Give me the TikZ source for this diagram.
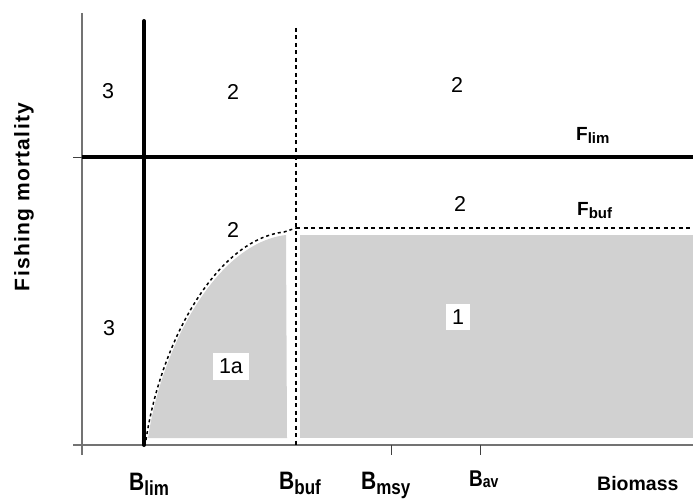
\documentclass[tikz,border=0pt]{standalone}
\usepackage{fontspec}
\setmainfont{Liberation Sans}
\usetikzlibrary{calc}
\tikzset{
  every picture/.append style={line join=round},
  hcr axis/.style={black!55,line width=1.4pt},
  hcr tick/.style={black!75,line width=1pt},
  hcr limit/.style={black,line width=4pt,line cap=round},
  hcr buffer/.style={black,line width=2pt,dash pattern=on 4pt off 3.5pt},
  hcr curve/.style={black,line width=1.5pt,dash pattern=on 3pt off 3pt},
  hcr zone/.style={fill=black!18},
  hcr number/.style={font=\fontsize{21.5}{24}\selectfont,inner sep=5pt},
  hcr boxed/.style={hcr number,fill=white,inner sep=6pt},
  hcr ref/.style={inner sep=0pt,anchor=base west}
}
\newcommand\hcrB[2]{\scalebox{1}[1.2]{\fontsize{21}{24}\selectfont\bfseries #1\raisebox{-4.5pt}{\fontsize{17}{20}\selectfont #2}}}
\newcommand\hcrF[2]{{\fontsize{19}{22}\selectfont\bfseries #1\raisebox{-3pt}{\fontsize{15}{18}\selectfont #2}}}

\begin{document}
\begin{tikzpicture}[x=1pt, y=-1pt]
  \useasboundingbox (0,0) rectangle (693,500);
  % reference points
  \coordinate (axis top) at (82,13);
  \coordinate (axis foot) at (82,455);
  \coordinate (axis left) at (73,445);
  \coordinate (axis right) at (693,445);
  \coordinate (flim left) at (82,157);
  \coordinate (flim right) at (693,157);
  \coordinate (blim top) at (144,21);
  \coordinate (blim foot) at (144,445);
  \coordinate (bbuf top) at (296,28);
  \coordinate (bbuf foot) at (296,445);
  \coordinate (fbuf left) at (296,228);
  \coordinate (fbuf right) at (693,228);
  % shaded zones
  \fill[hcr zone] (148,438) .. controls (162,345) and (217,243) .. (286,235)
    -- (287,438) -- cycle;
  \fill[hcr zone] (300,235) rectangle (693,438);
  % axes
  \draw[hcr axis] (axis top) -- (axis foot);
  \draw[hcr axis] (axis left) -- (axis right);
  \draw[hcr tick] (73,157) -- (flim left);
  \foreach \xt in {391,480} {
    \draw[hcr tick] (\xt,445) -- (\xt,455);
  }
  % limit and buffer lines
  \draw[hcr limit] (blim top) -- (blim foot);
  \draw[hcr limit,line cap=butt] (flim left) -- (flim right);
  \draw[hcr buffer] (bbuf top) -- (bbuf foot);
  \draw[hcr buffer] (fbuf left) -- (fbuf right);
  \draw[hcr curve] (146,440) .. controls (160,345) and (215,240) .. (284,232)
    -- (fbuf left);
  % zone numbers
  \foreach \pos/\lab [count=\i] in {{(108,91)}/3,{(233,92)}/2,{(457,85)}/2,
      {(460,204)}/2,{(233,230)}/2,{(109,328)}/3} {
    \node[hcr number] (zone \i) at \pos {\lab};
  }
  \node[hcr boxed] (zone 1a) at (231,366) {1a};
  \node[hcr boxed] (zone 1) at (458,317) {1};
  % reference point labels
  \node[hcr ref] (lab blim) at (129,490) {\hcrB{B}{lim}};
  \node[hcr ref] (lab bbuf) at (279,489) {\hcrB{B}{buf}};
  \node[hcr ref] (lab bmsy) at (361,489) {\hcrB{B}{msy}};
  \node[hcr ref] (lab bav) at (469,486)
    {\scalebox{1}[1.2]{\fontsize{19}{22}\selectfont\bfseries B\raisebox{-1pt}{\fontsize{14}{16}\selectfont av}}};
  \node[hcr ref] (lab biomass) at (597,490) {\fontsize{19.5}{22}\selectfont\bfseries Biomass};
  \node[hcr ref] (lab flim) at (576,140) {\hcrF{F}{lim}};
  \node[hcr ref] (lab fbuf) at (577,215) {\hcrF{F}{buf}};
  \node[rotate=90,font=\fontsize{21}{24}\selectfont\bfseries] (lab fishing) at (24,197)
    {\addfontfeature{LetterSpace=6}Fishing mortality};
\end{tikzpicture}
\end{document}
